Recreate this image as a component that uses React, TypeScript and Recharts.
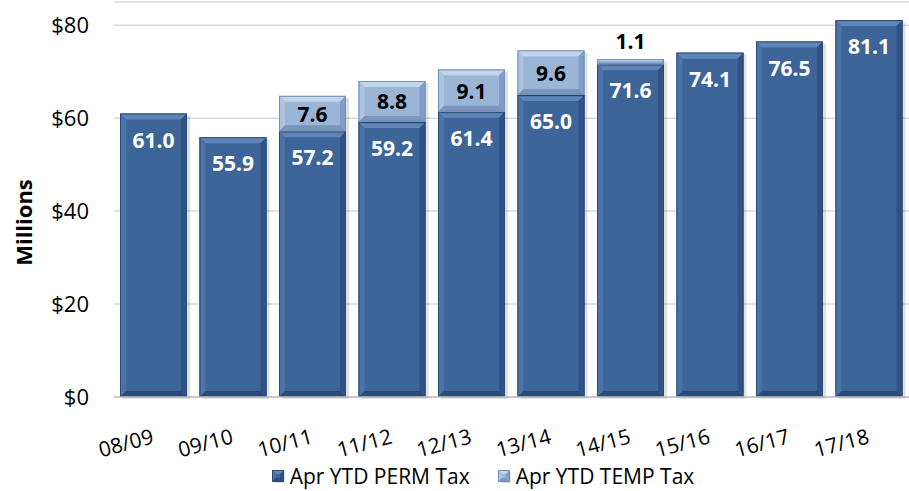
import React from "react";
import { BarChart, Bar, XAxis, YAxis, CartesianGrid, Legend, LabelList } from "recharts";

const categories = ["08/09", "09/10", "10/11", "11/12", "12/13", "13/14", "14/15", "15/16", "16/17", "17/18"];
const permValues = [61.0, 55.9, 57.2, 59.2, 61.4, 65.0, 71.6, 74.1, 76.5, 81.1];
const tempValues = [null, null, 7.6, 8.8, 9.1, 9.6, 1.1, null, null, null];
const yTicks = [0, 20, 40, 60, 80];

const FONT = "'Open Sans', sans-serif";

const PERM = { face: "#3d659a", top: "#5f86b8", left: "#4a73a8", right: "#2f5283", bottom: "#2a4a77", edge: "#2b4a75" };
const TEMP = { face: "#9bb5d6", top: "#c3d4ea", left: "#adc3df", right: "#7f9dc5", bottom: "#7895bd", edge: "#7390b8" };

const data = categories.map((year, i) => ({ year, perm: permValues[i], temp: tempValues[i] }));

// bevelled box like the Excel chart style
function BevelBar(props: any) {
  const { x, y, width, height, colors, value } = props;
  if (value == null || !height || height <= 0) return null;
  const b = Math.min(6, height / 3);
  const w = width;
  const h = height;
  return (
    <g>
      <rect x={x + 3} y={y + 2} width={w} height={h} fill="#000" opacity={0.12} />
      <rect x={x} y={y} width={w} height={h} fill={colors.face} />
      <polygon points={`${x},${y} ${x + w},${y} ${x + w - b},${y + b} ${x + b},${y + b}`} fill={colors.top} />
      <polygon points={`${x},${y} ${x + b},${y + b} ${x + b},${y + h - b} ${x},${y + h}`} fill={colors.left} />
      <polygon points={`${x + w},${y} ${x + w},${y + h} ${x + w - b},${y + h - b} ${x + w - b},${y + b}`} fill={colors.right} />
      <polygon points={`${x},${y + h} ${x + b},${y + h - b} ${x + w - b},${y + h - b} ${x + w},${y + h}`} fill={colors.bottom} />
      <rect x={x + 0.5} y={y + 0.5} width={w - 1} height={h - 1} fill="none" stroke={colors.edge} strokeWidth={1} />
    </g>
  );
}

function PermLabel(props: any) {
  const { x, y, width, value } = props;
  if (value == null) return null;
  return (
    <text x={x + width / 2} y={y + 34} textAnchor="middle" fill="#fff" fontFamily={FONT} fontWeight={700} fontSize={21}>
      {Number(value).toFixed(1)}
    </text>
  );
}

function TempLabel(props: any) {
  const { x, y, width, height, value } = props;
  if (value == null) return null;
  const ty = height < 20 ? y - 10 : y + height / 2 + 8;
  return (
    <text x={x + width / 2} y={ty} textAnchor="middle" fill="#000" fontFamily={FONT} fontWeight={700} fontSize={21}>
      {Number(value).toFixed(1)}
    </text>
  );
}

function YearTick(props: any) {
  const { x, y, payload } = props;
  const tx = x + 1;
  const ty = y + 44;
  return (
    <text x={tx} y={ty} transform={`rotate(-15, ${tx}, ${ty})`} textAnchor="end" fill="#000" fontFamily={FONT} fontSize={21}>
      {payload.value}
    </text>
  );
}

function AxisTitle(props: any) {
  const { viewBox } = props;
  const cx = viewBox.x + 23;
  const cy = viewBox.y + viewBox.height / 2 + 23;
  return (
    <text
      x={cx}
      y={cy}
      transform={`rotate(-90, ${cx}, ${cy})`}
      textAnchor="middle"
      dominantBaseline="central"
      fill="#000"
      fontFamily={FONT}
      fontWeight={700}
      fontSize={22}
    >
      Millions
    </text>
  );
}

function LegendIcon({ colors }: { colors: any }) {
  return (
    <svg width={13} height={13} style={{ marginRight: 5 }}>
      <BevelBar x={0} y={0} width={12} height={12} colors={colors} value={1} />
    </svg>
  );
}

function LegendContent() {
  const items = [
    { label: "Apr YTD PERM Tax", colors: PERM },
    { label: "Apr YTD TEMP Tax", colors: TEMP },
  ];
  return (
    <div style={{ display: "flex", justifyContent: "center", paddingLeft: 85, fontFamily: FONT, fontSize: 21, color: "#000" }}>
      {items.map((it) => (
        <div key={it.label} style={{ display: "flex", alignItems: "center", marginRight: 28, lineHeight: "22px", height: 22 }}>
          <LegendIcon colors={it.colors} />
          <span>{it.label}</span>
        </div>
      ))}
    </div>
  );
}

export default function App() {
  return (
    <div style={{ position: "absolute", left: 0, top: 0, width: 909, height: 491, background: "#fff", overflow: "hidden" }}>
      <BarChart width={909} height={491} data={data} margin={{ top: 2, right: 0, bottom: 4, left: 0 }} barSize={67}>
        <CartesianGrid vertical={false} stroke="#d9d9d9" strokeWidth={1.5} />
        <XAxis
          dataKey="year"
          tick={<YearTick />}
          tickLine={false}
          tickSize={0}
          axisLine={{ stroke: "#bfbfbf", strokeWidth: 1.5 }}
          height={68}
          interval={0}
        />
        <YAxis
          domain={[0, 85]}
          ticks={yTicks}
          width={114}
          axisLine={false}
          tickLine={false}
          tickSize={0}
          tickMargin={25}
          tickFormatter={(v: number) => `$${v}`}
          tick={{ fill: "#000", fontFamily: FONT, fontSize: 22 }}
          label={<AxisTitle />}
        />
        <Legend verticalAlign="bottom" content={<LegendContent />} />
        <Bar dataKey="perm" stackId="a" isAnimationActive={false} shape={(p: any) => <BevelBar {...p} colors={PERM} />}>
          <LabelList dataKey="perm" content={<PermLabel />} />
        </Bar>
        <Bar dataKey="temp" stackId="a" isAnimationActive={false} shape={(p: any) => <BevelBar {...p} colors={TEMP} />}>
          <LabelList dataKey="temp" content={<TempLabel />} />
        </Bar>
      </BarChart>
    </div>
  );
}
